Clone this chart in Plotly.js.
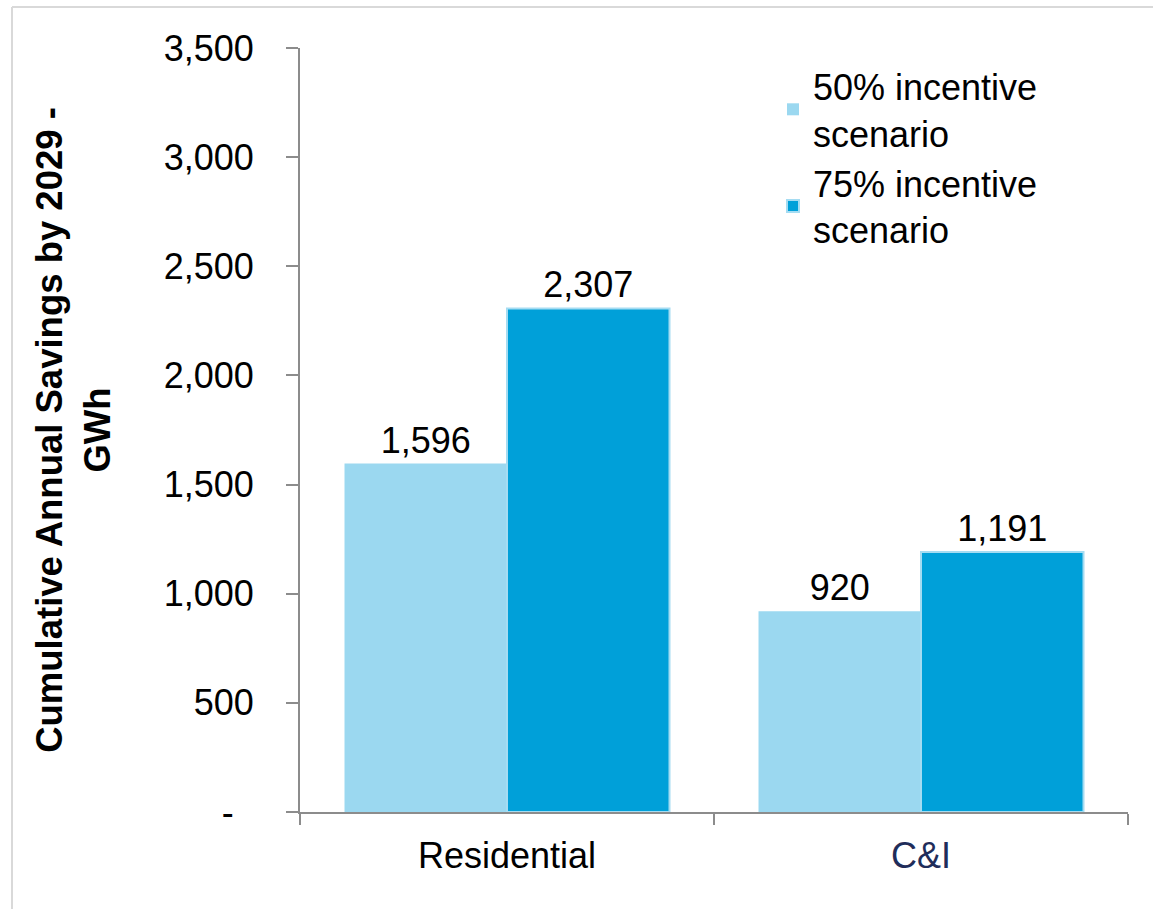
<!DOCTYPE html>
<html>
<head>
<meta charset="utf-8">
<script src="https://cdn.plot.ly/plotly-3.0.1.min.js"></script>
<style>
  html, body { margin: 0; padding: 0; background: #ffffff; }
  #chart { width: 1153px; height: 909px; }
</style>
</head>
<body>
<div id="chart"></div>
<script>
// ---- data ----
const categories = ["Residential", "C&I"];
const categoryLabels = ["Residential", "<span style=\"color:#1F2D5A\">C&amp;I</span>"];
const series50 = [1596, 920];
const series75 = [2307, 1191];
const seriesNames = ["50% incentive<br>scenario", "75% incentive<br>scenario"];
const yTickVals = [0, 500, 1000, 1500, 2000, 2500, 3000, 3500];
const yTickText = ["-\u00a0\u00a0", "500", "1,000", "1,500", "2,000", "2,500", "3,000", "3,500"];
const yTitle = "Cumulative Annual Savings by 2029 -<br>GWh";

const FONT = "Liberation Sans, Arial, sans-serif";
const W = 1153, H = 909;
const M = { l: 300, r: 25, t: 48, b: 97 };
const pw = W - M.l - M.r, ph = H - M.t - M.b;
const px = x => (x - M.l) / pw;
const py = y => (H - M.b - y) / ph;

const traces = [
  {
    type: "bar", name: seriesNames[0], x: categories, y: series50,
    marker: { color: "#9BD8F0", line: { color: "#9BD8F0", width: 0 } },
    text: series50, texttemplate: "%{y:,}", textposition: "outside",
    textfont: { family: FONT, size: 36, color: "#000000" },
    cliponaxis: false, hoverinfo: "x+y"
  },
  {
    type: "bar", name: seriesNames[1], x: categories, y: series75,
    marker: { color: "#00A0D9", line: { color: "#A5DCF2", width: 2 } },
    text: series75, texttemplate: "%{y:,}", textposition: "outside",
    textfont: { family: FONT, size: 36, color: "#000000" },
    cliponaxis: false, hoverinfo: "x+y"
  }
];

const layout = {
  width: W, height: H,
  margin: M,
  paper_bgcolor: "#ffffff", plot_bgcolor: "#ffffff",
  font: { family: FONT, size: 36, color: "#000000" },
  barmode: "group",
  bargap: 0.215,
  bargroupgap: 0,
  showlegend: true,
  legend: {
    x: px(773), y: py(56), xanchor: "left", yanchor: "top",
    bgcolor: "rgba(0,0,0,0)",
    font: { family: FONT, size: 36, color: "#000000" },
    itemwidth: 30, tracegroupgap: 8
  },
  xaxis: {
    type: "category",
    range: [-0.5, 1.5],
    tickvals: categories, ticktext: categoryLabels,
    showline: true, linecolor: "#8C8C8C", linewidth: 2,
    ticks: "outside", tickson: "boundaries", ticklen: 11, tickwidth: 2, tickcolor: "#8C8C8C",
    tickfont: { family: FONT, size: 36, color: "#000000" },
    ticklabelstandoff: 11,
    showgrid: false, zeroline: false, fixedrange: true
  },
  yaxis: {
    range: [0, 3500],
    tickvals: yTickVals, ticktext: yTickText,
    showline: true, linecolor: "#8C8C8C", linewidth: 2,
    ticks: "outside", ticklen: 12, tickwidth: 2, tickcolor: "#8C8C8C",
    tickfont: { family: FONT, size: 36, color: "#000000" },
    ticklabelstandoff: 25,
    showgrid: false, zeroline: false, fixedrange: true,
    title: { text: yTitle, font: { family: FONT, size: 36.5, color: "#000000", weight: "bold" }, standoff: 42 }
  },
  shapes: [
    { type: "line", xref: "paper", yref: "paper", x0: px(12), x1: px(12), y0: py(7), y1: py(H + 5),
      line: { color: "#D9D9D9", width: 2 } },
    { type: "line", xref: "paper", yref: "paper", x0: px(12), x1: px(W + 5), y0: py(7), y1: py(7),
      line: { color: "#D9D9D9", width: 2 } }
  ]
};

Plotly.newPlot("chart", traces, layout, { displayModeBar: false, staticPlot: true });
</script>
</body>
</html>
